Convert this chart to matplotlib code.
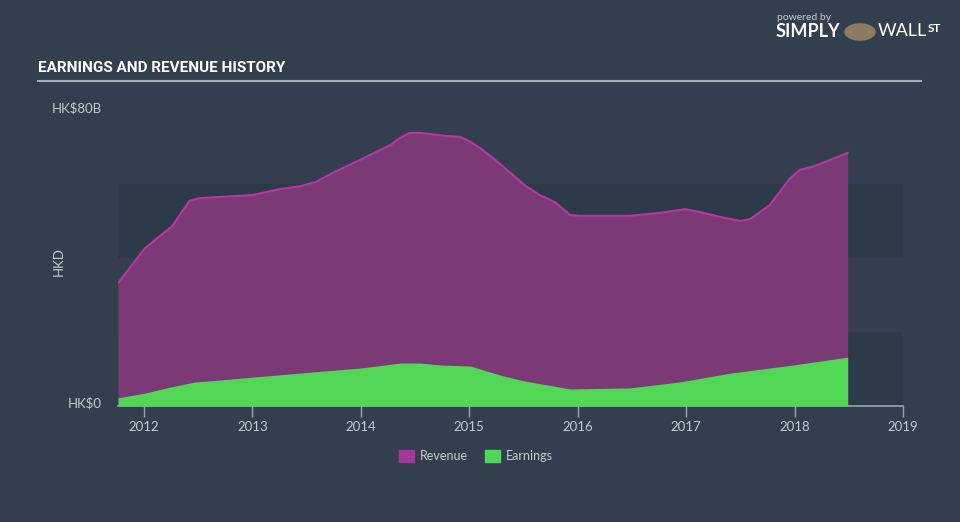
import matplotlib
matplotlib.use("Agg")
import matplotlib.pyplot as plt
from matplotlib.patches import Rectangle

rev_dates = [2011.76, 2012.01, 2012.26, 2012.42, 2012.52, 2013.0, 2013.25, 2013.44, 2013.58,
             2013.74, 2013.99, 2014.27, 2014.36, 2014.45, 2014.55, 2014.78, 2014.92, 2015.01,
             2015.10, 2015.24, 2015.38, 2015.51, 2015.65, 2015.79, 2015.93, 2016.02, 2016.48,
             2016.76, 2016.99, 2017.13, 2017.36, 2017.50, 2017.59, 2017.77, 2017.96, 2018.05,
             2018.19, 2018.49]
revenue = [33.2, 42.7, 48.6, 55.5, 56.2, 57.0, 58.6, 59.4, 60.5, 63.0, 66.5, 70.5, 72.4, 73.8,
           73.8, 73.0, 72.7, 71.4, 69.7, 66.5, 63.0, 59.7, 57.0, 55.1, 51.6, 51.4, 51.4, 52.2,
           53.2, 52.4, 50.8, 50.0, 50.5, 54.3, 61.6, 63.8, 64.9, 68.4]

earn_dates = [2011.76, 2012.01, 2012.24, 2012.47, 2012.61, 2013.0, 2013.44, 2014.01, 2014.36,
              2014.55, 2014.73, 2015.01, 2015.19, 2015.28, 2015.47, 2015.56, 2015.93, 2016.48,
              2016.94, 2017.41, 2017.99, 2018.49]
earnings = [2.2, 3.5, 5.1, 6.5, 6.8, 7.8, 8.9, 10.3, 11.6, 11.6, 11.1, 10.8, 9.2, 8.4, 7.0,
            6.5, 4.6, 4.9, 6.5, 8.9, 11.1, 13.2]

year_ticks = [2012, 2013, 2014, 2015, 2016, 2017, 2018, 2019]
y_labels = ["HK$0", "HK$80B"]

BG = "#333f4f"
BAND = "#2d3a48"
REV_FILL = "#7b3a76"
REV_LINE = "#b5399f"
EARN = "#52d655"
TXT = "#c5cad0"

W, H = 960, 522
fig = plt.figure(figsize=(9.6, 5.22), dpi=100, facecolor=BG)
ax = fig.add_axes([118 / W, (H - 406) / H, (903 - 118) / W, (406 - 110) / H])
ax.set_facecolor(BG)
ax.set_xlim(2011.76, 2019.0)
ax.set_ylim(0, 80)

for lo in (0, 40):
    ax.axhspan(lo, lo + 20, color=BAND, zorder=0, lw=0)

ax.fill_between(rev_dates, revenue, color=REV_FILL, lw=0, zorder=1)
ax.plot(rev_dates, revenue, color=REV_LINE, lw=1.5, zorder=2)
ax.fill_between(earn_dates, earnings, color=EARN, lw=0, zorder=3)

for s in ("top", "right", "left"):
    ax.spines[s].set_visible(False)
ax.spines["bottom"].set_color("#9aa4b0")
ax.spines["bottom"].set_linewidth(1.2)
ax.set_xticks(year_ticks)
ax.set_xticklabels([str(y) for y in year_ticks], color=TXT, fontsize=9.5, family="Lato")
ax.tick_params(axis="x", length=8, width=1, color="#9aa4b0", pad=3)
ax.set_yticks([])

# y labels
fig.text(102 / W, 1 - 403 / H, y_labels[0], ha="right", va="center", color=TXT, fontsize=9.5, family="Lato")
fig.text(102 / W, 1 - 108 / H, y_labels[1], ha="right", va="center", color=TXT, fontsize=9.5, family="Lato")
fig.text(59 / W, 1 - 262 / H, "HKD", rotation=90, ha="center", va="center", color=TXT, fontsize=9.5, family="Lato")

# title
fig.text(38 / W, 1 - 68 / H, "EARNINGS AND REVENUE HISTORY", ha="left", va="center", color="white",
         fontsize=11, fontweight="bold", family="Roboto")
fig.add_artist(plt.Line2D([38 / W, 921 / W], [1 - 81 / H, 1 - 81 / H], color="#a3abb5", lw=1.5))

# legend
fig.add_artist(Rectangle((399 / W, 1 - 462 / H), 15 / W, 12 / H, color="#a0399a", transform=fig.transFigure))
fig.text(420 / W, 1 - 456 / H, "Revenue", ha="left", va="center", color=TXT, fontsize=9, family="Lato")
fig.add_artist(Rectangle((485 / W, 1 - 462 / H), 15 / W, 12 / H, color=EARN, transform=fig.transFigure))
fig.text(506 / W, 1 - 456 / H, "Earnings", ha="left", va="center", color=TXT, fontsize=9, family="Lato")

# branding
fig.text(777 / W, 1 - 17 / H, "powered by", ha="left", va="center", color="#c8ccd2", fontsize=7.5, family="Lato")
fig.text(776 / W, 1 - 31 / H, "SIMPLY", ha="left", va="center", color="white", fontsize=13, fontweight="bold", family="Lato")
fig.add_artist(plt.Circle((860 / W, 1 - 32 / H), 15 / W, color="#8a7a60", transform=fig.transFigure))
fig.text(878 / W, 1 - 31 / H, "WALL", ha="left", va="center", color="white", fontsize=13, family="Lato")
fig.text(928 / W, 1 - 28 / H, "ST", ha="left", va="center", color="white", fontsize=8.5, fontweight="bold", family="Lato")

fig.savefig("out.png", dpi=100, facecolor=BG)
